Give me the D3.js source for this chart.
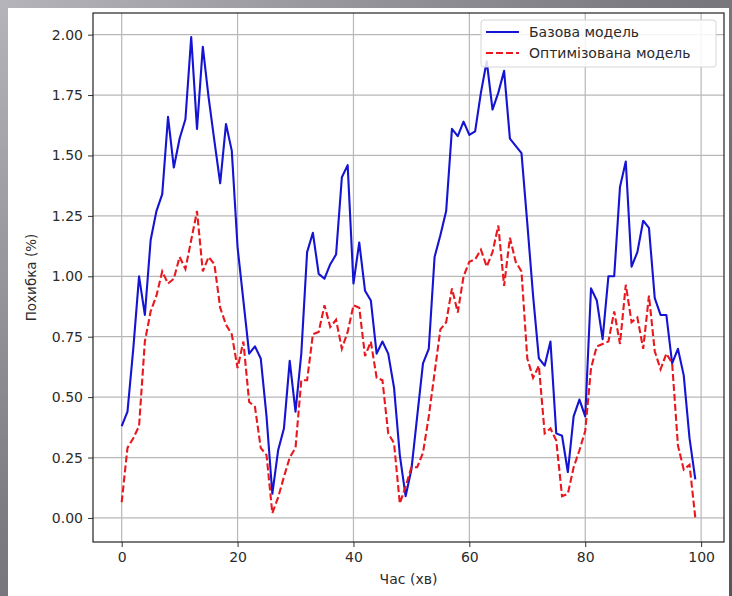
<!DOCTYPE html>
<html>
<head>
<meta charset="utf-8">
<script src="https://cdn.jsdelivr.net/npm/d3@7"></script>
<style>
  body { margin: 0; background: #fff; }
  text { font-family: "DejaVu Sans", sans-serif; }
</style>
</head>
<body>
<div id="chart"></div>
<script>
// values, one per minute (0..99)
var baseModel = [
  0.38, 0.44, 0.70, 1.00, 0.84, 1.15, 1.27, 1.34, 1.66, 1.45,
  1.57, 1.65, 1.99, 1.61, 1.95, 1.74, 1.56, 1.385, 1.63, 1.52,
  1.12, 0.90, 0.68, 0.71, 0.66, 0.42, 0.10, 0.28, 0.37, 0.65,
  0.44, 0.68, 1.10, 1.18, 1.01, 0.99, 1.05, 1.09, 1.41, 1.46,
  0.97, 1.14, 0.94, 0.90, 0.68, 0.73, 0.68, 0.54, 0.26, 0.09,
  0.20, 0.42, 0.64, 0.70, 1.08, 1.17, 1.27, 1.61, 1.58, 1.64,
  1.585, 1.60, 1.76, 1.89, 1.69, 1.76, 1.85, 1.57, 1.54, 1.51,
  1.22, 0.92, 0.66, 0.63, 0.73, 0.35, 0.34, 0.19, 0.42, 0.49,
  0.42, 0.95, 0.90, 0.74, 1.00, 1.00, 1.37, 1.475, 1.04, 1.10,
  1.23, 1.20, 0.91, 0.84, 0.84, 0.64, 0.70, 0.59, 0.33, 0.16
];
var optModel = [
  0.065, 0.29, 0.33, 0.38, 0.73, 0.855, 0.92, 1.02, 0.97, 0.99,
  1.08, 1.03, 1.15, 1.27, 1.02, 1.08, 1.05, 0.87, 0.80, 0.76,
  0.62, 0.73, 0.48, 0.46, 0.29, 0.26, 0.02, 0.085, 0.17, 0.25,
  0.29, 0.57, 0.57, 0.76, 0.77, 0.88, 0.79, 0.82, 0.70, 0.77,
  0.88, 0.87, 0.67, 0.73, 0.58, 0.57, 0.35, 0.31, 0.06, 0.13,
  0.21, 0.21, 0.27, 0.42, 0.60, 0.78, 0.81, 0.95, 0.85, 1.00,
  1.06, 1.07, 1.11, 1.04, 1.10, 1.21, 0.96, 1.16, 1.06, 1.02,
  0.66, 0.58, 0.63, 0.35, 0.37, 0.32, 0.09, 0.10, 0.21, 0.28,
  0.36, 0.62, 0.71, 0.72, 0.73, 0.855, 0.72, 0.965, 0.81, 0.83,
  0.70, 0.92, 0.69, 0.615, 0.68, 0.64, 0.30, 0.20, 0.22, 0.00
];
var xTicks = [0, 20, 40, 60, 80, 100];
var yTicks = [0, 0.25, 0.5, 0.75, 1.0, 1.25, 1.5, 1.75, 2.0];
var seriesNames = ["Базова модель", "Оптимізована модель"];

var W = 732, H = 596;
var plotL = 93, plotR = 724, plotT = 13, plotB = 542;

var svg = d3.select("#chart").append("svg")
  .attr("width", W)
  .attr("height", H);

// grey frame round the figure
var defs = svg.append("defs");
var grad = defs.append("linearGradient").attr("id", "frame")
  .attr("x1", "0").attr("y1", "0").attr("x2", "1").attr("y2", "1");
grad.append("stop").attr("offset", "0").attr("stop-color", "#b4b4ba");
grad.append("stop").attr("offset", "0.45").attr("stop-color", "#7a7a80");
grad.append("stop").attr("offset", "1").attr("stop-color", "#56565a");
svg.append("rect").attr("width", W).attr("height", H).attr("fill", "url(#frame)");
svg.append("rect").attr("x", 8).attr("y", 8).attr("width", 721).attr("height", H - 8).attr("fill", "#fff");

var allVals = baseModel.concat(optModel);
var ymin = d3.min(allVals), ymax = d3.max(allVals);
var ypad = (ymax - ymin) * 0.05;

var x = d3.scaleLinear().domain([-4.95, 103.95]).range([plotL, plotR]);
var y = d3.scaleLinear().domain([ymin - ypad, ymax + ypad]).range([plotB, plotT]);

// grid
svg.append("g").selectAll("line").data(xTicks).enter().append("line")
  .attr("x1", function(d) { return x(d); }).attr("x2", function(d) { return x(d); })
  .attr("y1", plotT).attr("y2", plotB)
  .attr("stroke", "#b8b8b8").attr("stroke-width", 1.2);
svg.append("g").selectAll("line").data(yTicks).enter().append("line")
  .attr("x1", plotL).attr("x2", plotR)
  .attr("y1", function(d) { return y(d); }).attr("y2", function(d) { return y(d); })
  .attr("stroke", "#b8b8b8").attr("stroke-width", 1.2);

// axes
var xAxis = svg.append("g")
  .attr("transform", "translate(0," + plotB + ")")
  .call(d3.axisBottom(x).tickValues(xTicks).tickSize(5).tickPadding(5).tickFormat(d3.format("d")));
var yAxis = svg.append("g")
  .attr("transform", "translate(" + plotL + ",0)")
  .call(d3.axisLeft(y).tickValues(yTicks).tickSize(5).tickPadding(5).tickFormat(d3.format(".2f")));
[xAxis, yAxis].forEach(function(a) {
  a.select(".domain").remove();
  a.selectAll(".tick line").attr("stroke", "#333");
  a.selectAll(".tick text").attr("fill", "#2b2b2b").style("font-size", "14px");
});

// lines
var line = d3.line()
  .x(function(d, i) { return x(i); })
  .y(function(d) { return y(d); });

svg.append("path")
  .datum(baseModel)
  .attr("fill", "none")
  .attr("stroke", "#1414d2")
  .attr("stroke-width", 2.1)
  .attr("stroke-linejoin", "round")
  .attr("d", line);

svg.append("path")
  .datum(optModel)
  .attr("fill", "none")
  .attr("stroke", "#e8181e")
  .attr("stroke-width", 2.1)
  .attr("stroke-dasharray", "7,3")
  .attr("d", line);

// plot frame
svg.append("rect")
  .attr("x", plotL).attr("y", plotT)
  .attr("width", plotR - plotL).attr("height", plotB - plotT)
  .attr("fill", "none").attr("stroke", "#222").attr("stroke-width", 1.2);

// axis titles
svg.append("text")
  .attr("x", (plotL + plotR) / 2).attr("y", 584)
  .attr("text-anchor", "middle")
  .attr("fill", "#2b2b2b")
  .style("font-size", "14px")
  .text("Час (хв)");
svg.append("text")
  .attr("transform", "translate(36," + ((plotT + plotB) / 2) + ") rotate(-90)")
  .attr("text-anchor", "middle")
  .attr("fill", "#2b2b2b")
  .style("font-size", "13.5px")
  .text("Похибка (%)");

// legend
var lg = svg.append("g").attr("transform", "translate(481,20)");
lg.append("rect")
  .attr("width", 235).attr("height", 47).attr("rx", 3)
  .attr("fill", "#fff").attr("fill-opacity", 0.85)
  .attr("stroke", "#d6d6d6");
var styles = [
  { color: "#1414d2", dash: null },
  { color: "#e8181e", dash: "7,3" }
];
seriesNames.forEach(function(name, i) {
  var yy = 12 + i * 21;
  lg.append("line")
    .attr("x1", 5).attr("x2", 38).attr("y1", yy).attr("y2", yy)
    .attr("stroke", styles[i].color).attr("stroke-width", 2.1)
    .attr("stroke-dasharray", styles[i].dash);
  lg.append("text")
    .attr("x", 48).attr("y", yy + 5)
    .attr("fill", "#2b2b2b")
    .style("font-size", "14px")
    .text(name);
});
</script>
</body>
</html>
